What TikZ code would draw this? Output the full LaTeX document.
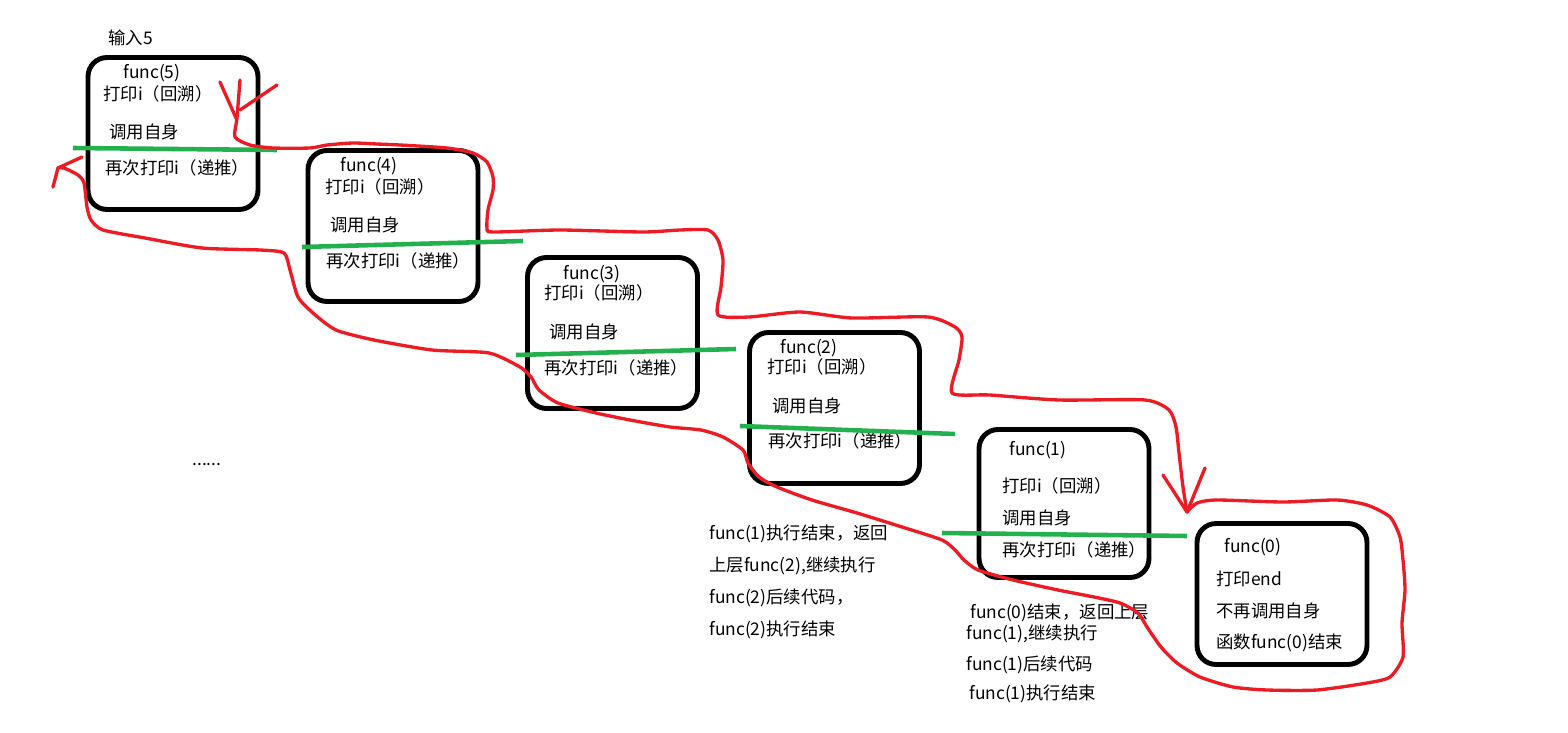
\documentclass[tikz,border=0pt]{standalone}
\usepackage{fontspec}
\setmainfont{Noto Sans CJK SC}
\usepackage{xcolor}
\usepackage{tikz}
\usetikzlibrary{arrows.meta}
\usetikzlibrary{positioning}

\definecolor{penred}{RGB}{237,28,36}
\definecolor{pengreen}{RGB}{34,177,76}

\tikzset{
  fbox/.style={draw, line width=2.8pt, rounded corners=0.38cm, minimum width=3.4cm, inner sep=0pt},
  txt/.style={anchor=west, inner sep=0pt, font=\fontsize{9.9pt}{12pt}\selectfont},
  gline/.style={pengreen, line width=2.6pt},
  rline/.style={penred, line width=1.9pt, line cap=round, line join=round},
}

\begin{document}
\begin{tikzpicture}[x=0.02cm, y=-0.02cm]
  \useasboundingbox (0,0) rectangle (1568,733);

  % Riquadri delle chiamate
  \node[fbox, minimum height=3.04cm] (f5) at (173,133.5) {};
  \node[fbox, minimum height=3.02cm] (f4) at (393,226) {};
  \node[fbox, minimum height=3.02cm] (f3) at (612.5,333) {};
  \node[fbox, minimum height=3.02cm] (f2) at (834.5,408) {};
  \node[fbox, minimum height=2.96cm] (f1) at (1064,503.5) {};
  \node[fbox, minimum height=2.82cm] (f0) at (1282,594) {};

  % Testi
  \node[txt] (in5) at (108,38) {输入5};
  \node[txt] (f5a) at (123,73) {func(5)};
  \node[txt] (f5b) at (103,94) {打印i（回溯）};
  \node[txt] (f5c) at (109,132) {调用自身};
  \node[txt] (f5d) at (105,168) {再次打印i（递推）};

  \node[txt] (f4a) at (340,166) {func(4)};
  \node[txt] (f4b) at (325,187) {打印i（回溯）};
  \node[txt] (f4c) at (330,225) {调用自身};
  \node[txt] (f4d) at (326,261) {再次打印i（递推）};

  \node[txt] (f3a) at (563,274) {func(3)};
  \node[txt] (f3b) at (544,293) {打印i（回溯）};
  \node[txt] (f3c) at (549,332) {调用自身};
  \node[txt] (f3d) at (544,368) {再次打印i（递推）};

  \node[txt] (f2a) at (780,348) {func(2)};
  \node[txt] (f2b) at (767,367) {打印i（回溯）};
  \node[txt] (f2c) at (772,406) {调用自身};
  \node[txt] (f2d) at (768,441) {再次打印i（递推）};

  \node[txt] (f1a) at (1009,450) {func(1)};
  \node[txt] (f1b) at (1002,486) {打印i（回溯）};
  \node[txt] (f1c) at (1002,518) {调用自身};
  \node[txt] (f1d) at (1002,550) {再次打印i（递推）};

  \node[txt] (f0a) at (1224,547) {func(0)};
  \node[txt] (f0b) at (1216,579) {打印end};
  \node[txt] (f0c) at (1216,611) {不再调用自身};
  \node[txt] (f0d) at (1216,643) {函数func(0)结束};

  \node[txt] (dots) at (192,465) {......};

  \node[txt] (n2a) at (709,534) {func(1)执行结束，返回};
  \node[txt] (n2b) at (709,566) {上层func(2),继续执行};
  \node[txt] (n2c) at (709,598) {func(2)后续代码，};
  \node[txt] (n2d) at (709,630) {func(2)执行结束};

  \node[txt] (n1a) at (970,613) {func(0)结束，返回上层};
  \node[txt] (n1b) at (966,634) {func(1),继续执行};
  \node[txt] (n1c) at (966,665) {func(1)后续代码};
  \node[txt] (n1d) at (969,694) {func(1)执行结束};

  % Linee verdi
  \draw[gline] (73,148) -- (277,150);
  \draw[gline] (302,247) -- (523,241);
  \draw[gline] (516,355) -- (736,349);
  \draw[gline] (740,426) -- (955,434);
  \draw[gline] (942,533) -- (1187,536);

  % Percorso di andata
  \draw[rline] plot[smooth, tension=0.4] coordinates {
    (240,80) (237,118) (235,137) (250,145) (273,148) (310,148) (327,145)
    (353,143) (377,144) (400,145) (447,148) (473,153) (487,162) (493,177)
    (493,190) (488,210) (487,228) (493,232) (560,230) (643,232) (680,230)
    (708,230) (718,240) (723,260) (721,287) (718,315) (749,317) (800,312)
    (852,318) (928,317) (955,327) (962,337) (959,360) (952,393) (990,395)
    (1059,400) (1145,400) (1169,410) (1176,427) (1179,453) (1183,487) (1187,512)};
  \draw[rline] (220,82) -- (236,118) (277,85) -- (240,110);
  \draw[rline] (1163,475) -- (1187,512) -- (1205,468);

  % Percorso di ritorno
  \draw[rline] plot[smooth, tension=0.4] coordinates {
    (1187,512) (1197,503) (1217,500) (1283,502) (1337,500) (1367,505)
    (1390,517) (1400,537) (1403,560) (1405,590) (1402,623) (1403,657)
    (1390,677) (1367,683) (1317,690) (1267,690) (1233,687) (1200,677)
    (1177,663) (1161,647) (1147,627) (1138,613) (1120,603) (1094,597)
    (1058,590) (1013,580) (978,570) (964,560) (955,550) (942,540) (902,527)
    (857,513) (812,500) (777,487) (759,477) (748,463) (743,450) (723,437)
    (701,430) (670,427) (630,420) (596,413) (558,403) (539,390) (531,377)
    (520,367) (489,353) (432,350) (374,340) (336,330) (313,313) (298,297)
    (290,270) (284,253) (260,250) (202,248) (145,238) (103,230) (91,220)
    (87,207) (84,183) (78,175) (64,168) (58,168)};
  \draw[rline] (82,157) -- (58,168) -- (53,187);
\end{tikzpicture}
\end{document}
